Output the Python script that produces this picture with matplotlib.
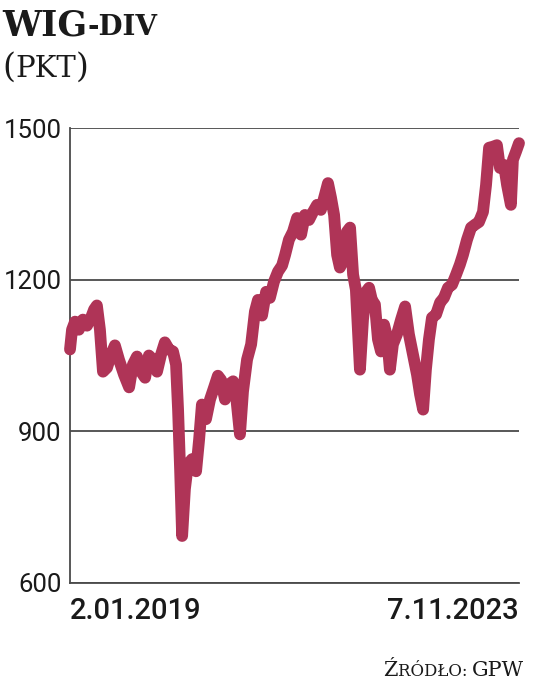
import pandas as pd
import matplotlib
matplotlib.use('Agg')
import matplotlib.pyplot as plt

# dane (dni od 2.01.2019, wartość indeksu w pkt)
start = pd.Timestamp('2019-01-02')
end = pd.Timestamp('2023-11-07')
days = [0, 8, 20, 35, 51, 67, 83, 95, 106, 118, 130, 146, 162, 177, 193, 213,
        233, 248, 264, 280, 296, 311, 327, 343, 359, 374, 390, 406, 418, 426,
        434, 442, 453, 465, 481, 497, 509, 520, 536, 552, 568, 583, 595, 611,
        627, 643, 654, 670, 682, 698, 714, 729, 741, 757, 773, 788, 804, 820,
        836, 848, 863, 879, 895, 911, 926, 942, 958, 974, 989, 1005, 1017,
        1029, 1041, 1053, 1064, 1076, 1092, 1104, 1116, 1127, 1143, 1155,
        1167, 1179, 1190, 1202, 1214, 1226, 1238, 1250, 1261, 1273, 1289,
        1305, 1321, 1336, 1352, 1368, 1380, 1392, 1403, 1415, 1427, 1443,
        1459, 1474, 1490, 1506, 1522, 1537, 1549, 1565, 1581, 1597, 1612,
        1628, 1640, 1652, 1667, 1683, 1695, 1711, 1723, 1738, 1746, 1758, 1770]
wig_div = [1062, 1101, 1117, 1101, 1121, 1109, 1125, 1141, 1149, 1101, 1018,
           1026, 1052, 1070, 1042, 1012, 987, 1032, 1048, 1018, 1006, 1050,
           1042, 1018, 1052, 1076, 1062, 1058, 1032, 943, 825, 693, 786, 835,
           845, 821, 884, 953, 924, 963, 987, 1010, 1002, 963, 993, 999, 973,
           894, 979, 1042, 1072, 1137, 1160, 1129, 1176, 1164, 1196, 1216,
           1228, 1249, 1279, 1295, 1322, 1289, 1328, 1318, 1334, 1348, 1338,
           1368, 1391, 1362, 1328, 1249, 1224, 1236, 1295, 1303, 1210, 1180,
           1022, 1121, 1176, 1184, 1160, 1151, 1082, 1058, 1111, 1086, 1022,
           1072, 1092, 1121, 1147, 1092, 1052, 1012, 973, 943, 1022, 1082,
           1125, 1131, 1155, 1164, 1184, 1190, 1210, 1230, 1249, 1279, 1303,
           1309, 1314, 1334, 1387, 1461, 1463, 1466, 1421, 1427, 1387, 1348,
           1437, 1453, 1470]
yticks = [600, 900, 1200, 1500]
xlabels = ['2.01.2019', '7.11.2023']

dates = start + pd.to_timedelta(days, unit='D')

num_font = ['Roboto', 'DejaVu Sans']
serif = ['DejaVu Serif']
red = '#AF3457'
grey = '#4a4a4a'

fig = plt.figure(figsize=(5.36, 6.79), dpi=100)
ax = fig.add_axes([70 / 536, 1 - 583 / 679, 449 / 536, 455 / 679])

ax.plot(dates, wig_div, color=red, lw=8.5, solid_joinstyle='round',
        solid_capstyle='round', clip_on=False, zorder=3)

ax.set_xlim(start, end)
ax.set_ylim(600, 1500)
ax.set_yticks(yticks, [str(v) for v in yticks])
ax.yaxis.grid(True, color=grey, lw=1.3)
ax.set_axisbelow(True)
for s in ['top', 'right']:
    ax.spines[s].set_visible(False)
ax.spines['left'].set_color(grey)
ax.spines['bottom'].set_color(grey)
ax.spines['left'].set_linewidth(1.3)
ax.spines['bottom'].set_linewidth(1.3)
ax.tick_params(axis='y', length=0, pad=6, labelsize=18.5, labelcolor='#1a1a1a')
for t in ax.get_yticklabels():
    t.set_family(num_font)

ax.set_xticks([start, end], xlabels)
ax.tick_params(axis='x', length=0, pad=10, labelsize=21, labelcolor='#1a1a1a')
xl = ax.get_xticklabels()
xl[0].set_ha('left')
xl[1].set_ha('right')
for t in xl:
    t.set_family(num_font)
    t.set_weight('medium')

# tytuł z kapitalikami
r = fig.canvas.get_renderer()


def chain(parts, x, y):
    # parts: (tekst, rozmiar, grubość)
    for txt, size, weight in parts:
        t = fig.text(x / 536, 1 - y / 679, txt, fontsize=size, fontweight=weight,
                     family=serif, color='#1a1a1a', ha='left', va='baseline')
        x = t.get_window_extent(r).x1


chain([('WIG', 25, 'bold'), ('-DIV', 20, 'bold')], 2, 35)
chain([('(', 24, 'normal'), ('PKT', 21, 'normal'), (')', 24, 'normal')], 2, 77)
chain([('Ź', 15, 'normal'), ('RÓDŁO: ', 12, 'normal'), ('GPW', 15, 'normal')], 383, 676)

fig.savefig('out.png', dpi=100)
